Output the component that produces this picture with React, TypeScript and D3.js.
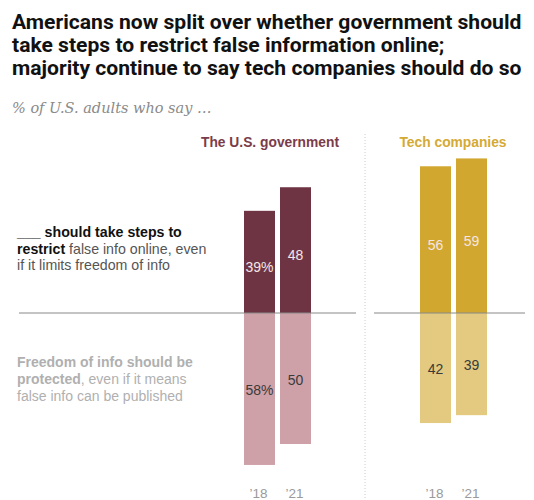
import React from "react";
import * as d3 from "d3";

const groups = ["The U.S. government", "Tech companies"];
const years = ["\u201918", "\u201921"];
const restrictValues = [
  [39, 48],
  [56, 59],
];
const protectValues = [
  [58, 50],
  [42, 39],
];
const titleLines = [
  "Americans now split over whether government should",
  "take steps to restrict false information online;",
  "majority continue to say tech companies should do so",
];
const subtitle = "% of U.S. adults who say \u2026";

const darkColors = ["#6e3443", "#d2a72f"];
const lightColors = ["#cea1a9", "#e3ca80"];
const headerColors = ["#7a3c4b", "#d4aa35"];

const W = 534;
const H = 500;
const zeroY = 313;
const groupRanges: [number, number][] = [
  [244, 311],
  [420, 487],
];
const headerX = [270, 453];

export default function App() {
  const h = d3.scaleLinear().domain([0, 100]).range([0, 262]);
  const font = "'Liberation Sans', Arial, sans-serif";
  return (
    <svg
      width={W}
      height={H}
      style={{ position: "absolute", left: 0, top: 0, background: "#fff" }}
      fontFamily={font}
    >
      {titleLines.map((t, i) => (
        <text
          key={i}
          x={12}
          y={29 + i * 23}
          fontSize={21.1}
          fontWeight="bold"
          fill="#111"
          fontFamily="Roboto, sans-serif"
        >
          {t}
        </text>
      ))}
      <text
        x={12}
        y={113}
        fontSize={14.5}
        fontStyle="italic"
        fill="#8a8a8a"
        fontFamily="'DejaVu Serif', Georgia, serif"
      >
        {subtitle}
      </text>

      {/* separator */}
      <line x1={365} x2={365} y1={134} y2={500} stroke="#ccc" strokeDasharray="1,2" />

      {/* left labels */}
      <text x={17} y={237} fontSize={14.2} fill="#555">
        <tspan fontWeight="bold" fill="#111">___ should take steps to</tspan>
        <tspan x={17} dy={16.5} fontWeight="bold" fill="#111">restrict</tspan>
        <tspan> false info online, even</tspan>
        <tspan x={17} dy={16.5}>if it limits freedom of info</tspan>
      </text>
      <text x={17} y={367} fontSize={14} fill="#b0b0b0">
        <tspan fontWeight="bold">Freedom of info should be</tspan>
        <tspan x={17} dy={17} fontWeight="bold">protected</tspan>
        <tspan>, even if it means</tspan>
        <tspan x={17} dy={17}>false info can be published</tspan>
      </text>

      {groups.map((g, gi) => {
        const x = d3.scaleBand<string>().domain(years).range(groupRanges[gi]).paddingInner(0.139);
        return (
          <g key={g}>
            <text
              x={headerX[gi]}
              y={147}
              textAnchor="middle"
              fontSize={13.8}
              fontWeight="bold"
              fill={headerColors[gi]}
            >
              {g}
            </text>
            {years.map((yr, yi) => {
              const bx = x(yr)!;
              const bw = x.bandwidth();
              const up = h(restrictValues[gi][yi]);
              const down = h(protectValues[gi][yi]);
              const pct = gi === 0 && yi === 0 ? "%" : "";
              return (
                <g key={yr}>
                  <rect x={bx} y={zeroY - up} width={bw} height={up} fill={darkColors[gi]} />
                  <rect x={bx} y={zeroY} width={bw} height={down} fill={lightColors[gi]} />
                  <text
                    x={bx + bw / 2}
                    y={zeroY - up / 2 + 10}
                    textAnchor="middle"
                    fontSize={14}
                    fill="#f3e6e6"
                  >
                    {restrictValues[gi][yi] + pct}
                  </text>
                  <text
                    x={bx + bw / 2}
                    y={zeroY + down / 2 + 6}
                    textAnchor="middle"
                    fontSize={14}
                    fill="#3a3a3a"
                  >
                    {protectValues[gi][yi] + pct}
                  </text>
                  <text
                    x={bx + bw / 2 - 1}
                    y={498}
                    textAnchor="middle"
                    fontSize={13.5}
                    fill="#9a9a9a"
                  >
                    {yr}
                  </text>
                </g>
              );
            })}
          </g>
        );
      })}

      {/* zero lines */}
      <line x1={19} x2={356} y1={zeroY} y2={zeroY} stroke="#888" strokeWidth={1} />
      <line x1={374} x2={525} y1={zeroY} y2={zeroY} stroke="#888" strokeWidth={1} />
    </svg>
  );
}
